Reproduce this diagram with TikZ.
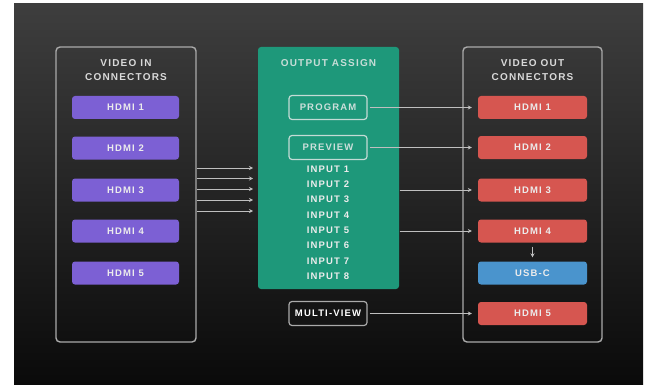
\documentclass[tikz,border=0pt]{standalone}
\usepackage{fontspec}
\setmainfont{Liberation Sans}[LetterSpace=12]
\usetikzlibrary{shapes,calc,arrows.meta}

\definecolor{bgtop}{RGB}{62,62,62}
\definecolor{bgbot}{RGB}{10,10,10}
\definecolor{inpurple}{RGB}{124,96,212}
\definecolor{outred}{RGB}{214,86,80}
\definecolor{usbblue}{RGB}{74,148,205}
\definecolor{assigngreen}{RGB}{30,152,122}
\definecolor{frame}{RGB}{170,170,170}
\definecolor{txt}{RGB}{236,236,236}

\tikzset{
  panel/.style={draw=frame, line width=1.4pt, rounded corners=4pt, inner sep=0pt},
  conn/.style={rounded corners=3pt, minimum width=107pt, minimum height=23pt, inner sep=0pt,
    text=txt, font=\bfseries\fontsize{9.5}{11}\selectfont},
  inbox/.style={conn, fill=inpurple},
  outbox/.style={conn, fill=outred, minimum width=109pt},
  usbbox/.style={conn, fill=usbblue, minimum width=109pt},
  tagbox/.style={conn, draw=txt!80!assigngreen, line width=1.2pt, minimum width=78pt, minimum height=24pt},
  heading/.style={text=txt!92!black, align=center, font=\bfseries\fontsize{10}{14}\selectfont},
  inlabel/.style={text=txt, inner sep=0pt, font=\bfseries\fontsize{9.5}{11}\selectfont},
  link/.style={draw=white!75!black, line width=1pt, -{Stealth[length=4pt,width=4pt]}}
}

\begin{document}
\begin{tikzpicture}[x=1pt,y=-1pt]
\useasboundingbox (0,0) rectangle (650,385);
\fill[white] (0,0) rectangle (650,385);
\shade[top color=bgtop, bottom color=bgbot] (14,4) rectangle (643,385);

\node[panel, minimum width=140pt, minimum height=295pt] (inpanel) at (126,194.5) {};
\node[panel, minimum width=139pt, minimum height=295pt] (outpanel) at (532.5,194.5) {};
\node[panel, draw=none, fill=assigngreen, rounded corners=3pt, minimum width=141pt, minimum height=242pt] (assign) at (328.5,168) {};

\node[heading] (intitle) at (126,70) {VIDEO IN\\CONNECTORS};
\node[heading] (outtitle) at (532.5,70) {VIDEO OUT\\CONNECTORS};
\node[heading, text=txt!82!assigngreen] (assigntitle) at (328.5,63) {OUTPUT ASSIGN};

\node[inbox] (in1) at (125.5,107.5) {HDMI 1};
\node[inbox] (in2) at (125.5,148) {HDMI 2};
\node[inbox] (in3) at (125.5,190) {HDMI 3};
\node[inbox] (in4) at (125.5,231) {HDMI 4};
\node[inbox] (in5) at (125.5,273) {HDMI 5};

\node[tagbox, text=txt!85!assigngreen] (program) at (328,107.5) {PROGRAM};
\node[tagbox, text=txt!85!assigngreen] (preview) at (328,147.5) {PREVIEW};
\node[inlabel] (input1) at (328,169) {INPUT 1};
\node[inlabel] (input2) at (328,184.5) {INPUT 2};
\node[inlabel] (input3) at (328,199.5) {INPUT 3};
\node[inlabel] (input4) at (328,215) {INPUT 4};
\node[inlabel] (input5) at (328,230.5) {INPUT 5};
\node[inlabel] (input6) at (328,245.5) {INPUT 6};
\node[inlabel] (input7) at (328,261) {INPUT 7};
\node[inlabel] (input8) at (328,276) {INPUT 8};
\node[tagbox, fill=black!92, draw=frame, text=white] (multiview) at (328,313.5) {MULTI-VIEW};

\node[outbox] (out1) at (532.5,107.5) {HDMI 1};
\node[outbox] (out2) at (532.5,147.5) {HDMI 2};
\node[outbox] (out3) at (532.5,190) {HDMI 3};
\node[outbox] (out4) at (532.5,231) {HDMI 4};
\node[usbbox] (usbc) at (532.5,273) {USB-C};
\node[outbox] (out5) at (532.5,313.5) {HDMI 5};

\coordinate (feed1) at (253,168);
\coordinate (feed2) at (253,178.5);
\coordinate (feed3) at (253,189);
\coordinate (feed4) at (253,200);
\coordinate (feed5) at (253,211);
\draw[link] (inpanel.east |- feed1) -- (feed1);
\draw[link] (inpanel.east |- feed2) -- (feed2);
\draw[link] (inpanel.east |- feed3) -- (feed3);
\draw[link] (inpanel.east |- feed4) -- (feed4);
\draw[link] (inpanel.east |- feed5) -- (feed5);

\draw[link, shorten <=2pt, shorten >=6pt] (program) -- (out1);
\draw[link, shorten <=2pt, shorten >=6pt] (preview) -- (out2);
\draw[link, shorten >=6pt] (assign.east |- out3) -- (out3);
\draw[link, shorten >=6pt] (assign.east |- out4) -- (out4);
\draw[link, shorten <=2pt, shorten >=6pt] (multiview) -- (out5);
\draw[link, line width=0.8pt, shorten <=4pt, shorten >=4pt] (out4) -- (usbc);
\end{tikzpicture}
\end{document}
